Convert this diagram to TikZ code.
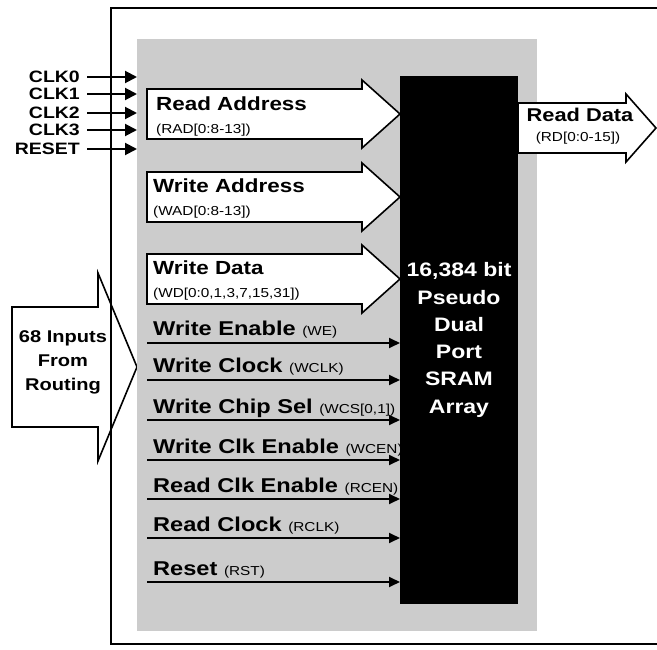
\documentclass[tikz,border=0pt]{standalone}
\usepackage{fontspec}
\setmainfont{Liberation Sans}[FakeStretch=1.18]
\usepackage{tikz}
\usetikzlibrary{
  calc,
  arrows.meta,
  positioning
}
\definecolor{panelgray}{gray}{0.8}

% fat bus arrow: left, top, bottom, head start, tip (y grows downwards)
\newcommand{\busarrow}[6][9]{%
  \draw[bus] (#2,#3) -- (#5,#3) -- (#5,#3-#1) -- (#6,{(#3+#4)/2})
    -- (#5,#4+#1) -- (#5,#4) -- (#2,#4) -- cycle;}
\newcommand{\notefont}{\fontsize{13}{15}\selectfont\mdseries}

\begin{document}
\begin{tikzpicture}[
            x=1pt, y=-1pt,
            bus/.style={draw=black, line width=1.6pt, fill=white, line join=miter},
            frame/.style={draw=black, line width=1.4pt},
            panel/.style={rectangle, fill=panelgray, inner sep=0pt, outer sep=0pt, minimum width=400pt, minimum height=592pt},
            array/.style={rectangle, fill=black, text=white, inner sep=0pt, outer sep=0pt, minimum width=118pt, minimum height=527pt,
                          align=center, font=\fontsize{19.5}{27.3}\selectfont\bfseries},
            buslabel/.style={anchor=base west, inner sep=0pt, font=\fontsize{19}{22}\selectfont\bfseries},
            busnote/.style={anchor=base west, inner sep=0pt, font=\notefont},
            siglabel/.style={anchor=base west, inner sep=0pt, font=\fontsize{20}{22}\selectfont\bfseries},
            clklabel/.style={anchor=east, inner sep=0pt, font=\fontsize{16.5}{18}\selectfont\bfseries},
            clkarrow/.style={line width=2pt, -{Triangle[length=12pt, width=12pt]}},
            sig/.style={line width=1.8pt, -{Triangle[length=11pt, width=10pt]}}
        ]
        \useasboundingbox (0,0) rectangle (657,650);

        % Routing input arrow (under the frame)
        \busarrow[34]{12}{307}{427}{98}{137}
        \node (inputs) [align=center, inner sep=0pt, font=\fontsize{17}{24}\selectfont\bfseries] at (63,362) {68 Inputs\\From\\Routing};

        % Frame and panel
        \draw [frame] (657,8) -- (111,8) -- (111,644) -- (657,644);
        \node (core) [panel] at (337,335) {};

        % Bus arrows
        \busarrow{147}{89}{139}{362}{400}
        \busarrow{147}{172}{222}{362}{400}
        \busarrow{147}{254}{304}{362}{400}
        \busarrow{518}{103}{153}{626}{656}

        % Memory array
        \node (sram) [array] at (459,340) {16,384 bit\\Pseudo\\Dual\\Port\\SRAM\\Array};

        % Bus labels
        \node (radl) [buslabel] at (156,111) {Read Address};
        \node (rads) [busnote] at (156,134) {(RAD[0:8-13])};
        \node (wadl) [buslabel] at (153,193) {Write Address};
        \node (wads) [busnote] at (153,216) {(WAD[0:8-13])};
        \node (wdl) [buslabel] at (153,275) {Write Data};
        \node (wds) [busnote] at (153,298) {(WD[0:0,1,3,7,15,31])};
        \node (rdl) [buslabel, anchor=base, font=\fontsize{18.5}{22}\selectfont\bfseries] at (580,122) {Read Data};
        \node (rds) [busnote, anchor=base] at (578,142) {(RD[0:0-15])};

        % Clocks
        \node (clk0) [clklabel] at (80,77) {CLK0};
        \node (clk1) [clklabel] at (80,94) {CLK1};
        \node (clk2) [clklabel] at (80,113) {CLK2};
        \node (clk3) [clklabel] at (80,130) {CLK3};
        \node (reset) [clklabel] at (80,149) {RESET};

        \draw [clkarrow] ([xshift=7pt]clk0.east) -- (clk0 -| core.west);
        \draw [clkarrow] ([xshift=7pt]clk1.east) -- (clk1 -| core.west);
        \draw [clkarrow] ([xshift=7pt]clk2.east) -- (clk2 -| core.west);
        \draw [clkarrow] ([xshift=7pt]clk3.east) -- (clk3 -| core.west);
        \draw [clkarrow] ([xshift=7pt]reset.east) -- (reset -| core.west);

        % Control signals
        \coordinate (we) at (147,343);
        \coordinate (wclk) at (147,380);
        \coordinate (wcs) at (147,420);
        \coordinate (wcen) at (147,460);
        \coordinate (rcen) at (147,499);
        \coordinate (rclk) at (147,538);
        \coordinate (rst) at (147,582);

        \node (wel) [siglabel] at (153,336) {Write Enable {\notefont(WE)}};
        \node (wclkl) [siglabel] at (153,373) {Write Clock {\notefont(WCLK)}};
        \node (wcsl) [siglabel] at (153,413) {Write Chip Sel {\notefont(WCS[0,1])}};
        \node (wcenl) [siglabel] at (153,453) {Write Clk Enable {\notefont(WCEN)}};
        \node (rcenl) [siglabel] at (153,492) {Read Clk Enable {\notefont(RCEN)}};
        \node (rclkl) [siglabel] at (153,531) {Read Clock {\notefont(RCLK)}};
        \node (rstl) [siglabel] at (153,575) {Reset {\notefont(RST)}};

        \draw [sig] (we) -- (we -| sram.west);
        \draw [sig] (wclk) -- (wclk -| sram.west);
        \draw [sig] (wcs) -- (wcs -| sram.west);
        \draw [sig] (wcen) -- (wcen -| sram.west);
        \draw [sig] (rcen) -- (rcen -| sram.west);
        \draw [sig] (rclk) -- (rclk -| sram.west);
        \draw [sig] (rst) -- (rst -| sram.west);

    \end{tikzpicture}
\end{document}
